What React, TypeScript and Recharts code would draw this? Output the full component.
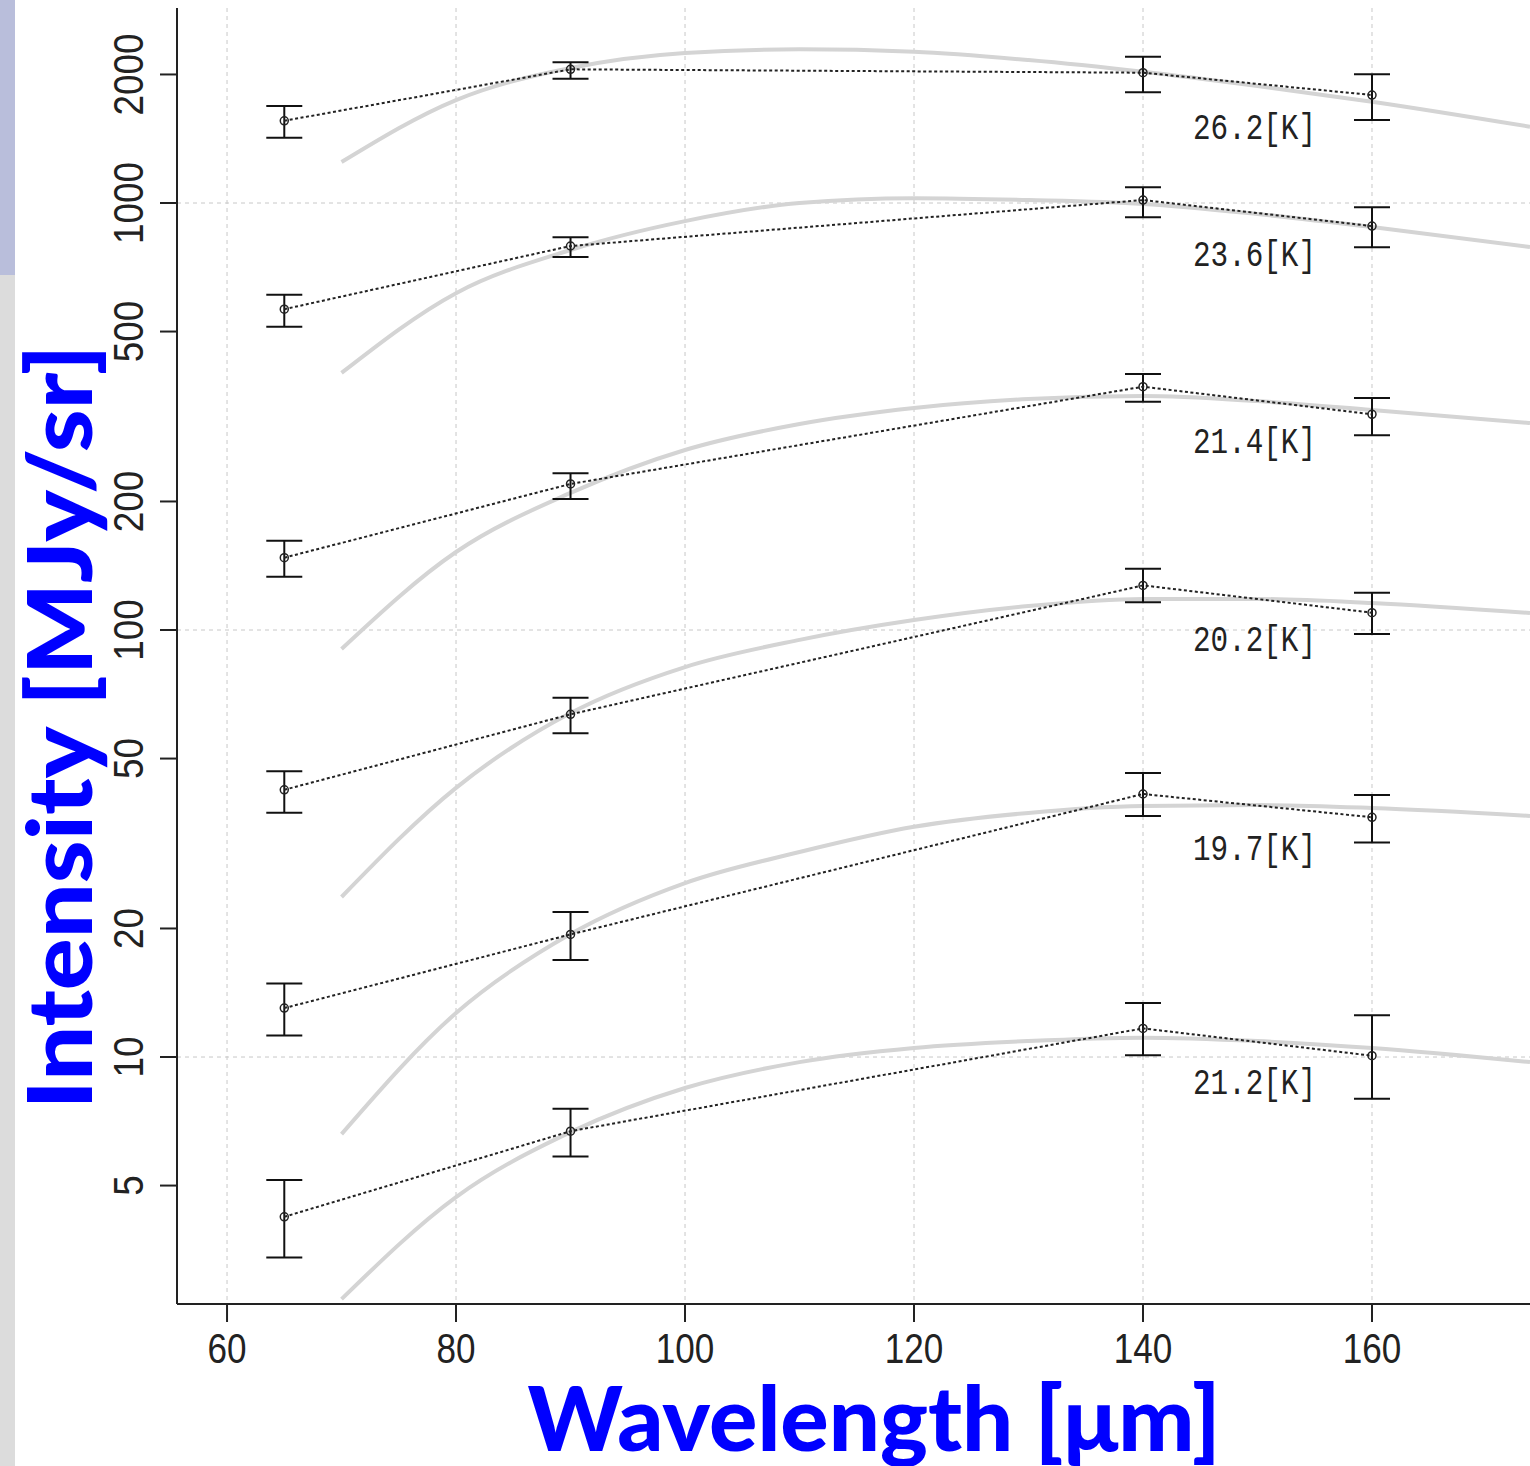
import {
  ComposedChart,
  Line,
  XAxis,
  YAxis,
  CartesianGrid,
  ErrorBar,
  LabelList,
} from "recharts";

// measured bands (um)
const wavelengths = [65, 90, 140, 160];
const temperatures = ["26.2[K]", "23.6[K]", "21.4[K]", "20.2[K]", "19.7[K]", "21.2[K]"];

// intensities in MJy/sr, one row per region
const intensity = [
  [1558, 2056, 2019, 1790],
  [564, 793, 1016, 883],
  [147.7, 219.8, 371.4, 320.0],
  [42.25, 63.47, 127.2, 109.8],
  [13.02, 19.37, 41.3, 36.43],
  [4.225, 6.703, 11.67, 10.07],
];
const lowerBound = [
  [1422, 1955, 1816, 1564],
  [513, 747, 926, 788],
  [133.3, 202.7, 342.5, 285.8],
  [37.35, 57.29, 116.1, 97.9],
  [11.23, 16.87, 36.67, 31.79],
  [3.392, 5.848, 10.09, 7.99],
];
const upperBound = [
  [1687, 2136, 2201, 2002],
  [610, 831, 1088, 977],
  [161.9, 232.8, 397.6, 349.4],
  [46.71, 69.41, 139.2, 122.3],
  [14.86, 21.86, 46.26, 41.08],
  [5.152, 7.562, 13.38, 12.52],
];

// gray fitted curves
const fitWavelengths = [70, 80, 90, 100, 110, 120, 130, 140, 150, 160, 173.8];
const fitCurves = [
  [1247, 1742, 2070, 2245, 2290, 2260, 2161, 2029, 1879, 1727, 1509],
  [400, 615, 776, 907, 1000, 1026, 1016, 995, 942, 879, 789],
  [90.3, 152.3, 209.4, 264, 303.7, 331.1, 347.5, 353.2, 343.6, 327.5, 305.3],
  [23.7, 42.7, 63.9, 81.9, 94.8, 105.5, 113.8, 118.2, 118.2, 115.7, 109.6],
  [6.6, 12.68, 19.41, 25.55, 30.2, 34.6, 37.3, 38.7, 38.9, 38.3, 36.7],
  [2.71, 4.7, 6.67, 8.46, 9.73, 10.5, 10.9, 11.1, 10.9, 10.5, 9.73],
];

const xTicks = [60, 80, 100, 120, 140, 160];
const yTicks = [5, 10, 20, 50, 100, 200, 500, 1000, 2000];
const yGrid = [10, 100, 1000];
const labelBand = 140;

const tickFont = "'Liberation Sans', 'DejaVu Sans', sans-serif";
const titleFont = "Lato, 'Noto Sans', sans-serif";

function XTick({ x, y, payload }: any) {
  const s = String(payload.value);
  return (
    <text
      x={x}
      y={y + 39}
      textAnchor="middle"
      fontSize={42}
      fontFamily={tickFont}
      fill="#222"
      textLength={s.length * 19.5}
      lengthAdjust="spacingAndGlyphs"
    >
      {s}
    </text>
  );
}

function YTick({ x, y, payload }: any) {
  const s = String(payload.value);
  const bx = x - 15;
  return (
    <text
      x={bx}
      y={y}
      transform={`rotate(-90 ${bx} ${y})`}
      textAnchor="middle"
      fontSize={42}
      fontFamily={tickFont}
      fill="#222"
      textLength={s.length * 20.5}
      lengthAdjust="spacingAndGlyphs"
    >
      {s}
    </text>
  );
}

function TempLabel({ x, y, value }: any) {
  if (!value) return null;
  return (
    <text
      x={x + 50}
      y={y + 66}
      fontSize={36}
      fontFamily="'Liberation Mono', 'DejaVu Sans Mono', monospace"
      fill="#222"
      textLength={123}
      lengthAdjust="spacingAndGlyphs"
    >
      {value}
    </text>
  );
}

export default function App() {
  const measured = intensity.map((row, i) =>
    row.map((v, j) => ({
      x: wavelengths[j],
      y: v,
      err: [v - lowerBound[i][j], upperBound[i][j] - v],
      label: wavelengths[j] === labelBand ? temperatures[i] : "",
    }))
  );
  const fits = fitCurves.map((row) =>
    row.map((v, j) => ({ x: fitWavelengths[j], y: v }))
  );

  return (
    <div
      style={{
        position: "absolute",
        left: 0,
        top: 0,
        width: 1530,
        height: 1466,
        background: "#fff",
        overflow: "hidden",
      }}
    >
      <div style={{ position: "absolute", left: 0, top: 0, width: 15, height: 275, background: "#b9bedb" }} />
      <div style={{ position: "absolute", left: 0, top: 275, width: 15, height: 1191, background: "#dcdcdc" }} />
      <div style={{ position: "absolute", left: 0, top: 0 }}>
        <ComposedChart
          width={1530}
          height={1466}
          margin={{ top: 8, right: 0, left: 0, bottom: 0 }}
        >
          <CartesianGrid
            horizontalValues={yGrid}
            verticalValues={xTicks}
            stroke="#c8c8c8"
            strokeDasharray="4 4"
          />
          <XAxis
            xAxisId="top"
            orientation="top"
            type="number"
            dataKey="x"
            domain={[55.63, 173.8]}
            height={0}
            tick={false}
            tickLine={false}
            axisLine={{ stroke: "#222", strokeWidth: 2 }}
          />
          <XAxis
            type="number"
            dataKey="x"
            domain={[55.63, 173.8]}
            allowDataOverflow
            ticks={xTicks}
            height={162}
            tickSize={18}
            axisLine={{ stroke: "#222", strokeWidth: 2 }}
            tickLine={{ stroke: "#222", strokeWidth: 2 }}
            tick={<XTick />}
            label={{
              content: () => (
                <text
                  x={874}
                  y={1451}
                  textAnchor="middle"
                  fontSize={90}
                  fontWeight={900}
                  fontFamily={titleFont}
                  fill="#0000ff"
                  textLength={693}
                  lengthAdjust="spacingAndGlyphs"
                >
                  Wavelength [μm]
                </text>
              ),
            }}
          />
          <YAxis
            scale="log"
            type="number"
            domain={[2.64, 2862]}
            allowDataOverflow
            ticks={yTicks}
            width={177}
            tickSize={17}
            axisLine={{ stroke: "#222", strokeWidth: 2 }}
            tickLine={{ stroke: "#222", strokeWidth: 2 }}
            tick={<YTick />}
            label={{
              content: () => (
                <text
                  x={92}
                  y={727}
                  transform="rotate(-90 92 727)"
                  textAnchor="middle"
                  fontSize={90}
                  fontWeight={900}
                  fontFamily={titleFont}
                  fill="#0000ff"
                  textLength={765}
                  lengthAdjust="spacingAndGlyphs"
                >
                  Intensity [MJy/sr]
                </text>
              ),
            }}
          />
          {fits.map((pts, i) => (
            <Line
              key={`fit-${i}`}
              data={pts}
              dataKey="y"
              type="monotone"
              stroke="#d4d4d4"
              strokeWidth={4}
              dot={false}
              isAnimationActive={false}
            />
          ))}
          {measured.map((pts, i) => (
            <Line
              key={`obs-${i}`}
              data={pts}
              dataKey="y"
              name={temperatures[i]}
              type="linear"
              stroke="#222"
              strokeWidth={2}
              strokeDasharray="3 2.5"
              dot={{ r: 4, stroke: "#222", strokeWidth: 1.5, fill: "none", strokeDasharray: "none" }}
              isAnimationActive={false}
            >
              <ErrorBar dataKey="err" width={18} stroke="#111" strokeWidth={2} direction="y" />
              <LabelList dataKey="label" content={<TempLabel />} />
            </Line>
          ))}
        </ComposedChart>
      </div>
    </div>
  );
}
